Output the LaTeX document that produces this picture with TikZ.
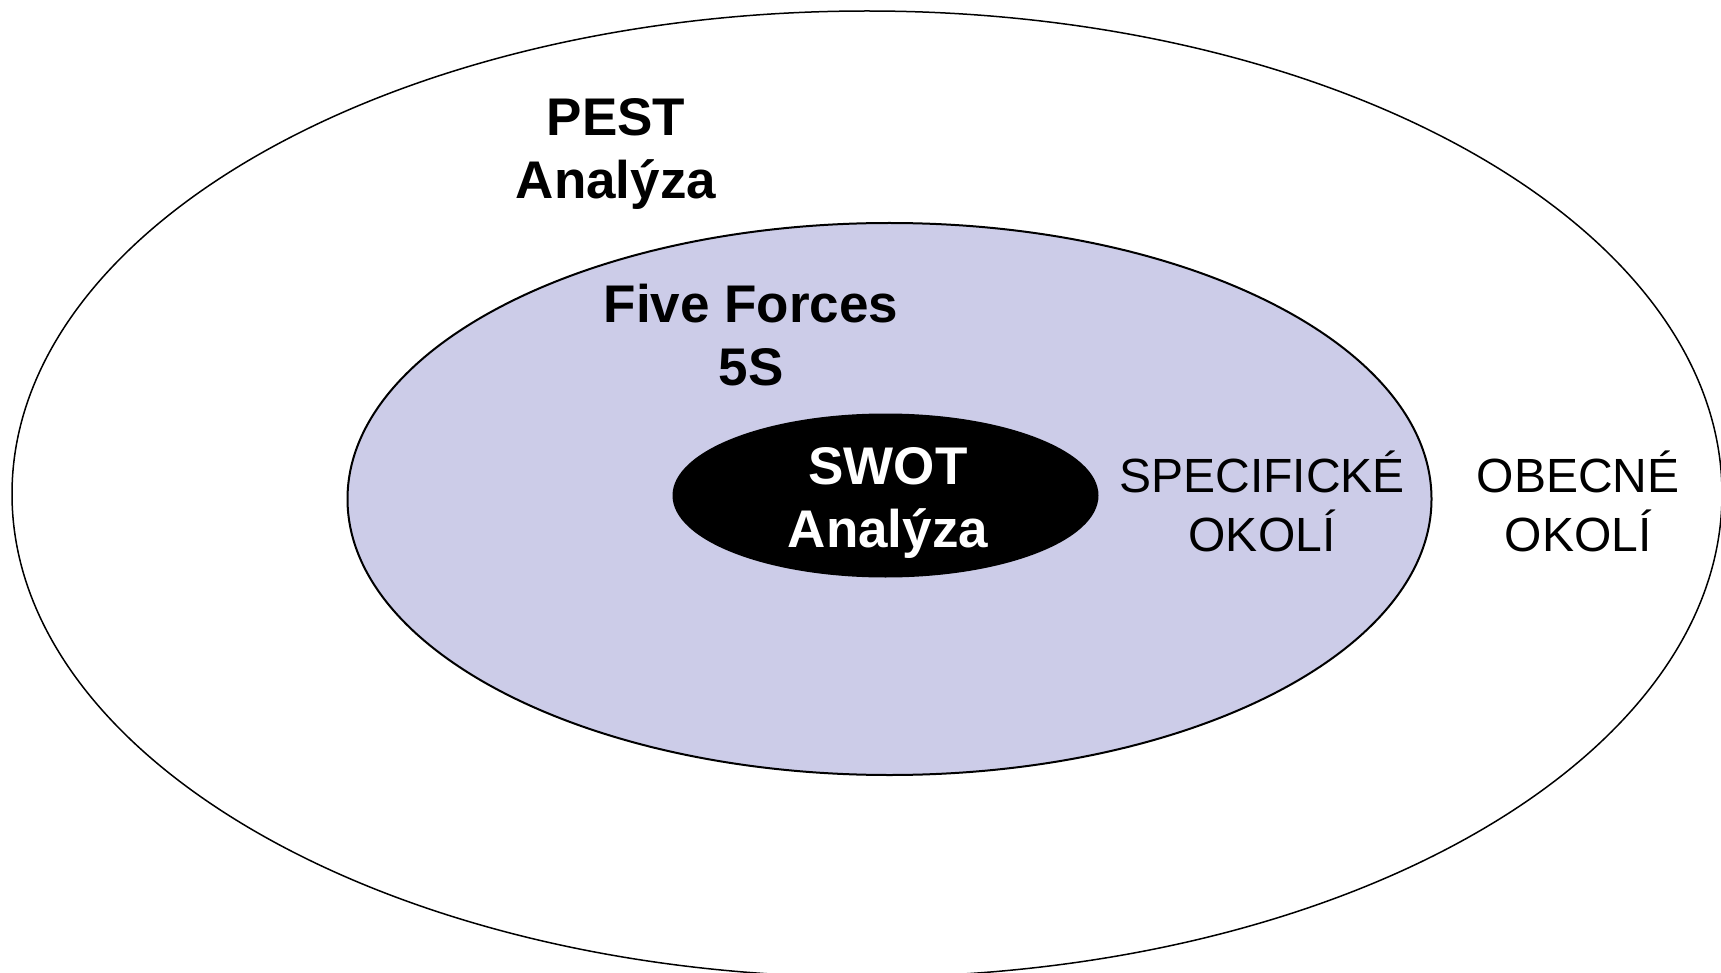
\documentclass[tikz,border=0pt]{standalone}
\usepackage{fontspec}
\setmainfont{Liberation Sans}
\definecolor{forcesfill}{RGB}{204,204,232}

\begin{document}
\begin{tikzpicture}[x=1pt, y=-1pt]
  \tikzset{
    bigtext/.style={font=\fontsize{53}{63}\selectfont\bfseries, align=center, inner sep=0pt},
    ringtext/.style={font=\fontsize{48}{59}\selectfont, align=center, inner sep=0pt}
  }
  \useasboundingbox (0,0) rectangle (1721,973);
  \clip (0,0) rectangle (1721,973);
  \fill[white] (0,0) rectangle (1721,973);
  % Obecne okoli
  \draw[line width=1.5pt] (867,494) ellipse [x radius=855pt, y radius=483pt];
  % Specificke okoli
  \draw[line width=2pt, fill=forcesfill] (889.5,499) ellipse [x radius=542pt, y radius=276pt];
  % SWOT
  \fill[black] (885.5,495.5) ellipse [x radius=213pt, y radius=82pt];
  \node[bigtext] at (616,154) (pest) {PEST\\Analýza};
  \node[bigtext] at (751,335) (forces) {Five Forces\\5S};
  \node[bigtext, text=white] at (888,503) (swot) {SWOT\\Analýza};
  \node[ringtext] at (1262,501) (spec) {SPECIFICKÉ\\OKOLÍ};
  \node[ringtext] at (1578,501) (obec) {OBECNÉ\\OKOLÍ};
\end{tikzpicture}
\end{document}
